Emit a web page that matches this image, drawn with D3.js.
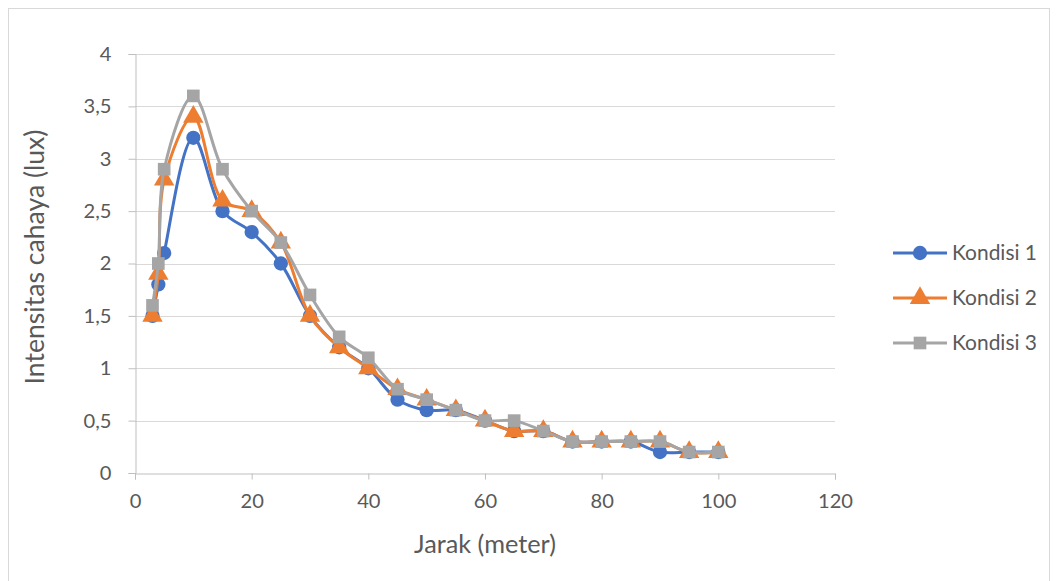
<!DOCTYPE html>
<html><head><meta charset="utf-8">
<script src="https://cdn.jsdelivr.net/npm/d3@7"></script>
<style>body{margin:0;background:#fff}svg{display:block}text{font-family:Lato,"Open Sans",sans-serif}</style>
</head><body><svg id="c" width="1059" height="581"></svg>
<script>
const jarak = [3,4,5,10,15,20,25,30,35,40,45,50,55,60,65,70,75,80,85,90,95,100];
const kondisi1 = [1.5,1.8,2.1,3.2,2.5,2.3,2.0,1.5,1.2,1.0,0.7,0.6,0.6,0.5,0.4,0.4,0.3,0.3,0.3,0.2,0.2,0.2];
const kondisi2 = [1.5,1.9,2.8,3.4,2.6,2.5,2.2,1.5,1.2,1.0,0.8,0.7,0.6,0.5,0.4,0.4,0.3,0.3,0.3,0.3,0.2,0.2];
const kondisi3 = [1.6,2.0,2.9,3.6,2.9,2.5,2.2,1.7,1.3,1.1,0.8,0.7,0.6,0.5,0.5,0.4,0.3,0.3,0.3,0.3,0.2,0.2];
const seriesNames = ["Kondisi 1","Kondisi 2","Kondisi 3"];
const xTicks = [0,20,40,60,80,100,120];
const yTicks = [0,0.5,1,1.5,2,2.5,3,3.5,4];
const colors = ["#4472C4","#ED7D31","#A5A5A5"];
const shapes = [d3.symbolCircle, d3.symbolTriangle, d3.symbolSquare];
const series = [kondisi1,kondisi2,kondisi3].map((v,i)=>({name:seriesNames[i],values:v.map((y,j)=>({x:jarak[j],y}))}));

const svg = d3.select("#c");
svg.append("rect").attr("x",8.5).attr("y",8.5).attr("width",1041).attr("height",580).attr("fill","#fff").attr("stroke","#D9D9D9");

const x = d3.scaleLinear().domain([0,120]).range([135,835]);
const y = d3.scaleLinear().domain([0,4]).range([473,54]);
const fmt = d => String(d).replace(".",",");

// measure a font size so that a string spans a given width
function sizeFor(str, width){
  const t = svg.append("text").style("font-size","100px").text(str);
  const w = t.node().getComputedTextLength(); t.remove();
  return 100*width/w;
}
const tickSize = sizeFor("120",35);
const legendSize = sizeFor("Kondisi 1",85);
const xTitleSize = sizeFor("Jarak (meter)",142);
const yTitleSize = sizeFor("Intensitas cahaya (lux)",255);

// gridlines
svg.append("g").selectAll("line").data(yTicks.filter(d=>d>0)).join("line")
  .attr("x1",x(0)).attr("x2",x(120)).attr("y1",d=>Math.round(y(d))+0.5).attr("y2",d=>Math.round(y(d))+0.5)
  .attr("stroke","#D9D9D9").attr("stroke-width",1);

const ya = svg.append("g").attr("transform",`translate(${x(0)+0.5},0)`)
  .call(d3.axisLeft(y).tickValues(yTicks).tickFormat(fmt).tickSize(7).tickPadding(17));
const xa = svg.append("g").attr("transform",`translate(0,${Math.round(y(0))+0.5})`)
  .call(d3.axisBottom(x).tickValues(xTicks).tickSize(6).tickPadding(14));
[ya,xa].forEach(g=>{
  g.select(".domain").attr("stroke","#BFBFBF");
  g.selectAll(".tick line").attr("stroke","#BFBFBF");
  g.selectAll(".tick text").attr("fill","#595959").style("font-size",tickSize+"px");
});

svg.append("text").attr("transform",`translate(44,257) rotate(-90)`).attr("text-anchor","middle")
  .attr("fill","#595959").style("font-size",yTitleSize+"px").text("Intensitas cahaya (lux)");
svg.append("text").attr("x",485).attr("y",553).attr("text-anchor","middle")
  .attr("fill","#595959").style("font-size",xTitleSize+"px").text("Jarak (meter)");

const line = d3.line().x(d=>x(d.x)).y(d=>y(d.y)).curve(d3.curveCatmullRom.alpha(0.5));
const sizes = [160,180,160];
series.forEach((s,i)=>{
  const g = svg.append("g");
  g.append("path").attr("d",line(s.values)).attr("fill","none").attr("stroke",colors[i]).attr("stroke-width",3).attr("stroke-linejoin","round");
  g.selectAll("path.m").data(s.values).join("path").attr("class","m")
    .attr("transform",d=>`translate(${x(d.x)},${y(d.y)})`)
    .attr("d",d3.symbol().type(shapes[i]).size(sizes[i])).attr("fill",colors[i]);
});

const lg = svg.append("g");
series.forEach((s,i)=>{
  const ly = 253 + i*45;
  lg.append("line").attr("x1",893).attr("x2",947).attr("y1",ly).attr("y2",ly).attr("stroke",colors[i]).attr("stroke-width",3);
  lg.append("path").attr("transform",`translate(920,${ly})`).attr("d",d3.symbol().type(shapes[i]).size(sizes[i])).attr("fill",colors[i]);
  lg.append("text").attr("x",952).attr("y",ly+7).attr("fill","#595959").style("font-size",legendSize+"px").text(s.name);
});
</script></body></html>
